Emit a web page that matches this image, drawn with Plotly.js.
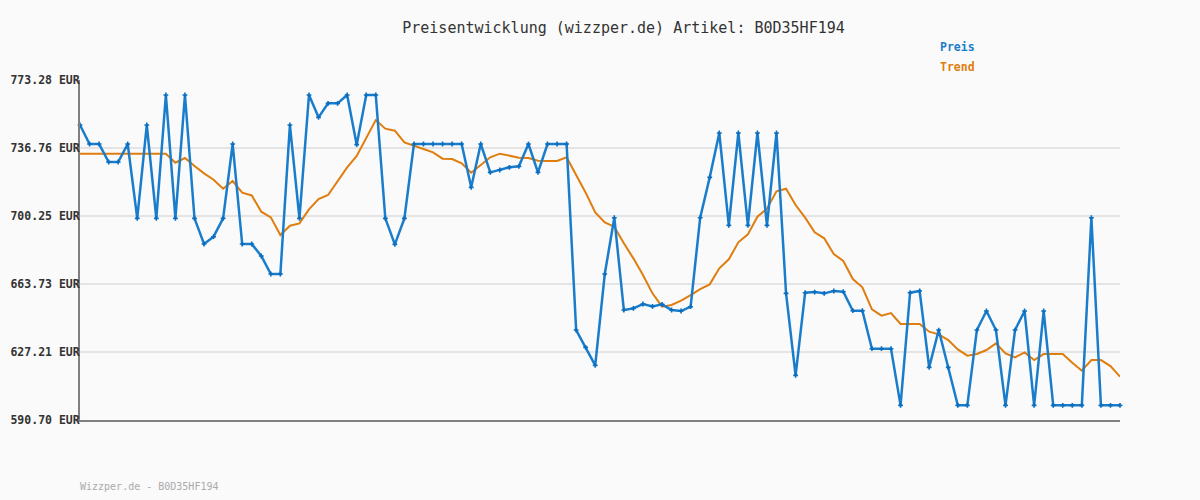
<!DOCTYPE html>
<html>
<head>
<meta charset="utf-8">
<script src="https://cdn.plot.ly/plotly-3.0.1.min.js"></script>
<style>
html,body{margin:0;padding:0;background:#fafafa;}
#chart{width:1200px;height:500px;}
</style>
</head>
<body>
<div id="chart"></div>
<script>
// Price readings (EUR), one per observation
const price = [
  749.11, 738.91, 738.91, 729.24, 729.24, 738.91, 698.99, 749.11, 698.99, 765.22,
  698.99, 765.22, 698.99, 685.20, 689.14, 698.99, 738.91, 685.20, 685.20, 678.76,
  669.09, 669.09, 749.11, 698.99, 765.22, 753.23, 760.75, 760.75, 765.22, 738.55,
  765.22, 765.22, 698.99, 685.02, 698.99, 738.91, 738.91, 738.91, 738.91, 738.91,
  738.91, 715.64, 738.91, 723.69, 724.94, 726.38, 726.91, 738.91, 723.69, 738.91,
  738.91, 738.91, 639.01, 629.71, 620.04, 669.09, 699.34, 649.76, 650.65, 652.98,
  651.73, 652.80, 649.76, 649.22, 651.55, 699.34, 721.01, 744.82, 695.23, 744.82,
  695.23, 744.82, 695.23, 744.82, 658.71, 614.67, 659.07, 659.42, 658.71, 659.96,
  659.60, 649.40, 649.40, 628.99, 628.99, 628.99, 598.56, 659.07, 659.96, 618.97,
  639.01, 618.97, 598.56, 598.56, 639.01, 649.22, 639.01, 598.56, 639.01, 649.22,
  598.56, 649.22, 598.56, 598.56, 598.56, 598.56, 699.34, 598.56, 598.56, 598.56
];
// Trend readings (EUR)
const trend = [
  733.72, 733.72, 733.72, 733.72, 733.72, 733.72, 733.72, 733.72, 733.72, 733.72,
  728.88, 731.39, 727.09, 723.15, 719.75, 714.92, 719.04, 712.77, 711.30, 702.57,
  699.52, 690.04, 695.05, 696.30, 703.82, 709.37, 711.52, 718.68, 726.38, 732.46,
  742.49, 751.80, 747.14, 746.07, 739.80, 738.19, 736.22, 734.43, 731.03, 730.85,
  728.52, 723.51, 727.63, 731.75, 733.72, 732.64, 731.57, 731.39, 729.96, 729.78,
  729.78, 731.75, 722.62, 712.77, 702.21, 696.84, 694.51, 685.56, 677.50, 668.55,
  658.71, 651.55, 652.44, 654.77, 657.81, 661.03, 663.54, 672.13, 676.97, 686.10,
  690.39, 699.88, 704.18, 713.50, 714.92, 706.15, 699.34, 691.47, 688.25, 679.83,
  676.07, 666.41, 661.93, 650.11, 646.71, 648.14, 642.24, 642.24, 642.24, 638.12,
  636.69, 633.64, 628.63, 625.23, 626.12, 628.28, 631.86, 626.48, 624.33, 627.02,
  622.90, 626.12, 626.12, 626.12, 621.47, 617.17, 622.90, 622.90, 619.68, 613.95
];
const yTickVals = [590.70, 627.21, 663.73, 700.25, 736.76, 773.28];
const yTickText = ['590.70 EUR', '627.21 EUR', '663.73 EUR', '700.25 EUR', '736.76 EUR', '773.28 EUR'];
const titleText = 'Preisentwicklung (wizzper.de) Artikel: B0D35HF194';
const footerText = 'Wizzper.de - B0D35HF194';
const seriesNames = ['Preis', 'Trend'];

const idx = price.map((_, i) => i);
const mono = 'DejaVu Sans Mono, monospace';
const blue = '#1a7dcc';
const orange = '#df7d0e';

const data = [
  {
    x: idx, y: trend, type: 'scatter', mode: 'lines', name: seriesNames[1],
    line: {color: orange, width: 2}, cliponaxis: false, hoverinfo: 'y'
  },
  {
    x: idx, y: price, type: 'scatter', mode: 'lines+markers', name: seriesNames[0],
    line: {color: blue, width: 2.5},
    marker: {symbol: 'cross', size: 4, color: '#0a6dbe'},
    cliponaxis: false, hoverinfo: 'y'
  }
];

const layout = {
  width: 1200, height: 500,
  paper_bgcolor: '#fafafa', plot_bgcolor: '#fafafa',
  margin: {l: 80, r: 80, t: 80, b: 80},
  showlegend: false,
  title: {
    text: titleText,
    font: {family: mono, size: 15, color: '#333333'},
    x: 0.5196, xref: 'container', xanchor: 'center',
    y: 0.944, yref: 'container', yanchor: 'middle'
  },
  xaxis: {
    range: [0, price.length - 1], showgrid: false, zeroline: false,
    showticklabels: false, ticks: '',
    showline: true, linecolor: '#808080', linewidth: 2
  },
  yaxis: {
    range: [yTickVals[0], yTickVals[yTickVals.length - 1]],
    tickmode: 'array', tickvals: yTickVals, ticktext: yTickText,
    tickfont: {family: mono, size: 11.5, color: '#333333', weight: 'bold'},
    showgrid: true, gridcolor: '#e4e4e4', gridwidth: 2, zeroline: false,
    showline: true, linecolor: '#808080', linewidth: 2,
    ticks: '', ticklabelstandoff: -4
  },
  annotations: [
    {text: '<b>' + seriesNames[0] + '</b>', xref: 'paper', yref: 'paper', x: 0.825, y: 1.097,
     xanchor: 'left', yanchor: 'middle', showarrow: false,
     font: {family: mono, size: 11.5, color: blue}},
    {text: '<b>' + seriesNames[1] + '</b>', xref: 'paper', yref: 'paper', x: 0.825, y: 1.038,
     xanchor: 'left', yanchor: 'middle', showarrow: false,
     font: {family: mono, size: 11.5, color: orange}},
    {text: footerText, xref: 'paper', yref: 'paper', x: -0.002, y: -0.197,
     xanchor: 'left', yanchor: 'middle', showarrow: false,
     font: {family: mono, size: 10, color: '#aaaaaa'}}
  ]
};

Plotly.newPlot('chart', data, layout, {displayModeBar: false, staticPlot: true});
</script>
</body>
</html>
